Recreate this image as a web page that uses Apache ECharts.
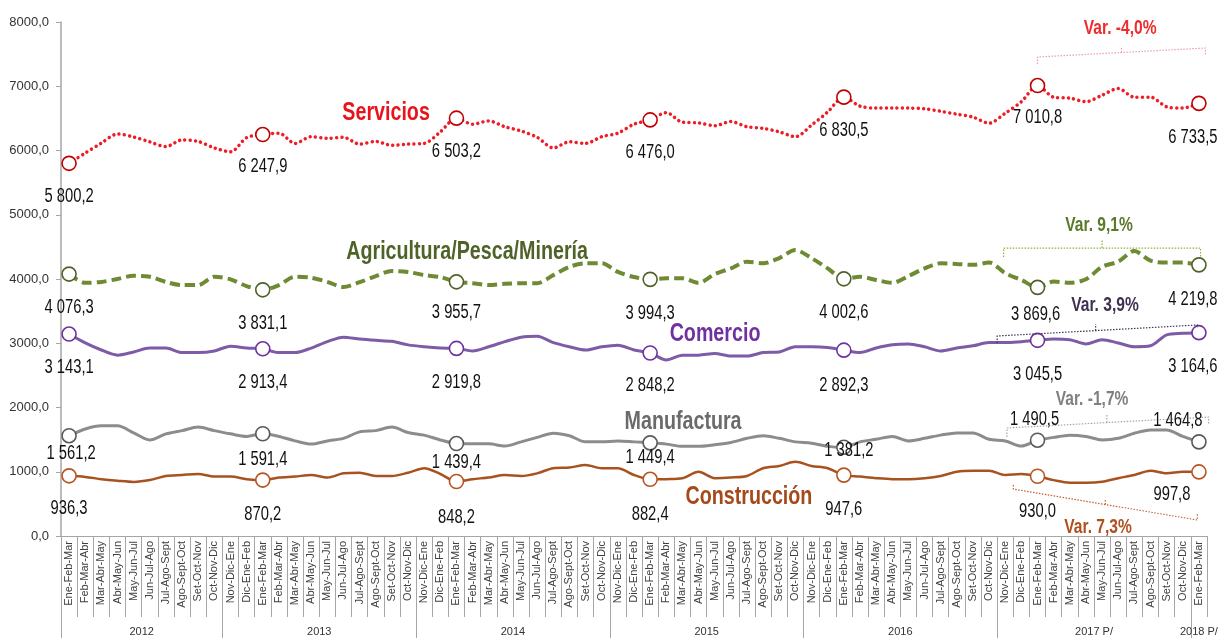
<!DOCTYPE html>
<html>
<head>
<meta charset="utf-8">
<script src="https://cdn.jsdelivr.net/npm/echarts@6/dist/echarts.min.js"></script>
<style>
  body { margin: 0; background: #fff; }
  #main { width: 1222px; height: 638px; }
</style>
</head>
<body>
<div id="main"></div>
<script>
// trimestres moviles
var trimestres = ['Nov-Dic-Ene', 'Dic-Ene-Feb', 'Ene-Feb-Mar', 'Feb-Mar-Abr', 'Mar-Abr-May', 'Abr-May-Jun',
    'May-Jun-Jul', 'Jun-Jul-Ago', 'Jul-Ago-Sept', 'Ago-Sept-Oct', 'Set-Oct-Nov', 'Oct-Nov-Dic'];
var anios = ['2012', '2013', '2014', '2015', '2016', '2017 P/', '2018 P/'];
var trimestresPorAnio = [10, 12, 12, 12, 12, 12, 1];
var periodos = trimestres.slice(2)
    .concat(trimestres, trimestres, trimestres, trimestres, trimestres)
    .concat(['Ene-Feb-Mar']);

var servicios = [5800.2, 5960, 6115, 6257, 6210, 6135, 6060, 6165, 6140, 6040, 5980, 6200,
    6247.9, 6270, 6110, 6215, 6190, 6205, 6100, 6140, 6080, 6100, 6110, 6290,
    6503.2, 6410, 6460, 6370, 6305, 6205, 6040, 6135, 6110, 6215, 6270, 6410,
    6476.0, 6590, 6440, 6430, 6385, 6450, 6370, 6345, 6290, 6215, 6395, 6600,
    6830.5, 6690, 6660, 6660, 6660, 6650, 6610, 6565, 6520, 6425, 6580, 6760,
    7010.8, 6830, 6815, 6760, 6860, 6965, 6830, 6830, 6680, 6660, 6733.5];
var agricultura = [4076.3, 3940, 3955, 4000, 4050, 4035, 3955, 3905, 3905, 4035, 3995, 3890,
    3831.1, 3905, 4035, 4020, 3955, 3875, 3950, 4045, 4125, 4110, 4060, 4030,
    3955.7, 3935, 3905, 3925, 3935, 3935, 4060, 4190, 4245, 4245, 4110, 4030,
    3994.3, 4010, 4010, 3940, 4075, 4165, 4270, 4245, 4325, 4450, 4325, 4165,
    4002.6, 4035, 3985, 3940, 4045, 4165, 4245, 4235, 4220, 4255, 4090, 3985,
    3869.6, 3960, 3940, 3995, 4190, 4270, 4435, 4285, 4255, 4255, 4219.8];
var comercio = [3143.1, 3005, 2895, 2815, 2865, 2925, 2925, 2855, 2855, 2880, 2955, 2925,
    2913.4, 2855, 2855, 2925, 3025, 3095, 3065, 3045, 3030, 2975, 2945, 2925,
    2919.8, 2880, 2945, 3025, 3095, 3110, 3010, 2945, 2895, 2945, 2970, 2895,
    2848.2, 2740, 2815, 2815, 2840, 2800, 2800, 2855, 2865, 2945, 2945, 2935,
    2892.3, 2855, 2925, 2975, 2990, 2945, 2880, 2925, 2960, 3010, 3010, 3025,
    3045.5, 3065, 3055, 2990, 3055, 3005, 2945, 2960, 3130, 3155, 3164.6];
var manufactura = [1561.2, 1665, 1715, 1715, 1605, 1495, 1590, 1640, 1695, 1640, 1590, 1550,
    1591.4, 1550, 1480, 1430, 1480, 1520, 1620, 1640, 1695, 1610, 1570, 1495,
    1439.4, 1435, 1435, 1400, 1465, 1535, 1600, 1560, 1465, 1465, 1480, 1465,
    1449.4, 1430, 1395, 1395, 1420, 1455, 1520, 1560, 1520, 1465, 1445, 1395,
    1381.2, 1465, 1505, 1550, 1480, 1520, 1570, 1605, 1605, 1505, 1480, 1400,
    1490.5, 1535, 1570, 1550, 1495, 1520, 1600, 1650, 1650, 1550, 1464.8];
var construccion = [936.3, 920, 885, 860, 842, 870, 935, 950, 965, 925, 925, 885,
    870.2, 910, 925, 950, 910, 975, 985, 935, 935, 985, 1055, 965,
    848.2, 885, 910, 950, 935, 975, 1055, 1065, 1105, 1055, 1055, 950,
    882.4, 885, 900, 1000, 900, 910, 935, 1055, 1090, 1155, 1090, 1055,
    947.6, 925, 900, 885, 885, 900, 935, 1000, 1015, 1015, 950, 965,
    930.0, 870, 830, 830, 845, 900, 950, 1015, 975, 1000, 997.8];

// puntos marcados (Ene-Feb-Mar de cada anio)
var marcas = [0, 12, 24, 36, 48, 60, 70];

// limites y centros de cada anio en el eje
var limitesAnio = [0];
var centrosAnio = [];
for (var a = 0; a < trimestresPorAnio.length; a++) {
    var ini = limitesAnio[limitesAnio.length - 1];
    centrosAnio.push(ini + trimestresPorAnio[a] / 2);
    limitesAnio.push(ini + trimestresPorAnio[a]);
}
limitesAnio.pop();

var FUENTE = "'Liberation Sans', Arial, sans-serif";
var ANGOSTA = 0.82; // la fuente original es condensada

function fmt(v) {
    var s = v.toFixed(1).split('.');
    return s[0].replace(/\B(?=(\d{3})+(?!\d))/g, ' ') + ',' + s[1];
}

function serie(nombre, datos, borde, lineStyle) {
    return {
        name: nombre,
        type: 'line',
        smooth: 0.3,
        symbol: 'none',
        showAllSymbol: true,
        lineStyle: lineStyle,
        itemStyle: { color: '#fff', borderColor: borde, borderWidth: 1.6 },
        data: datos.map(function (v, i) {
            if (marcas.indexOf(i) < 0) return { value: v };
            return { value: v, symbol: 'circle', symbolSize: 14 };
        }),
        z: 3
    };
}

var chart = echarts.init(document.getElementById('main'));

var option = {
    backgroundColor: '#fff',
    animation: false,
    grid: { left: 61, right: 15, top: 22, bottom: 102 },
    xAxis: [{
        type: 'category',
        data: periodos,
        boundaryGap: true,
        axisLine: { lineStyle: { color: '#a6a6a6', width: 1 } },
        axisTick: { show: true, interval: 0, length: 81, lineStyle: { color: '#a6a6a6' } },
        axisLabel: {
            interval: 0, rotate: 90, margin: 5,
            fontFamily: FUENTE, fontSize: 11, color: '#404040'
        },
        splitLine: { show: false }
    }, {
        type: 'value',
        min: 0,
        max: periodos.length,
        position: 'bottom',
        axisLine: { show: false },
        axisTick: { show: true, customValues: limitesAnio, length: 102, lineStyle: { color: '#a6a6a6' } },
        axisLabel: {
            customValues: centrosAnio,
            margin: 90,
            fontFamily: FUENTE, fontSize: 11, color: '#333',
            formatter: function (v) {
                var k = centrosAnio.indexOf(v);
                return k < 0 ? '' : anios[k];
            }
        },
        splitLine: { show: false }
    }],
    yAxis: {
        type: 'value',
        min: 0,
        max: 8000,
        interval: 1000,
        axisLine: { show: true, lineStyle: { color: '#a6a6a6', width: 1.5 } },
        axisTick: { show: true, length: 5, lineStyle: { color: '#a6a6a6' } },
        splitLine: { show: false },
        axisLabel: {
            margin: 12,
            fontFamily: FUENTE, fontSize: 13, color: '#333',
            formatter: function (v) { return v.toFixed(1).replace('.', ','); }
        }
    },
    series: [
        serie('Servicios', servicios, '#c00000',
            { color: '#ee1c25', width: 3.5, type: [0.01, 5.3], cap: 'round' }),
        serie('Agricultura/Pesca/Minería', agricultura, '#4f6228',
            { color: '#6e8b34', width: 4, type: [10, 5] }),
        serie('Comercio', comercio, '#7030a0',
            { color: '#7d5ba6', width: 3 }),
        serie('Manufactura', manufactura, '#595959',
            { color: '#8c8c8c', width: 3 }),
        serie('Construcción', construccion, '#b85420',
            { color: '#a8521f', width: 2.5 })
    ]
};

chart.setOption(option);

function pt(i, v) {
    return chart.convertToPixel({ xAxisIndex: 1, yAxisIndex: 0 }, [i + 0.5, v]);
}

// desplazamiento de las etiquetas de valor respecto del marcador (px)
var desplazamientos = [
    { d: servicios, o: [[0, 33], [0, 32], [0, 33], [0, 33], [0, 33], [0, 32], [-6, 34]] },
    { d: agricultura, o: [[0, 33], [0, 34], [0, 31], [0, 34], [0, 34], [-2, 27], [-6, 35]] },
    { d: comercio, o: [[0, 33], [0, 34], [0, 34], [0, 32], [0, 35], [0, 34], [-6, 34]] },
    { d: manufactura, o: [[2, 18], [0, 26], [0, 19], [0, 15], [5, 3], [-3, -21], [-21, -21]] },
    { d: construccion, o: [[0, 33], [0, 34], [0, 36], [0, 35], [0, 34], [0, 35], [-27, 23]] }
];

// rotulos de series y variaciones (coordenadas en datos: indice, valor)
var textos = [
    { t: 'Servicios', i: 19.64, v: 6584, c: '#e8141c', s: 24 },
    { t: 'Agricultura/Pesca/Minería', i: 24.66, v: 4420, c: '#4f6228', s: 24 },
    { t: 'Comercio', i: 40.02, v: 3144, c: '#7030a0', s: 24 },
    { t: 'Manufactura', i: 38.04, v: 1774, c: '#6b6b6b', s: 24 },
    { t: 'Construcción', i: 42.12, v: 607, c: '#a5491b', s: 24 },
    { t: 'Var. -4,0%', i: 65.12, v: 7891, c: '#ef2b2d', s: 19 },
    { t: 'Var. 9,1%', i: 63.81, v: 4825, c: '#5a7a2a', s: 19 },
    { t: 'Var. 3,9%', i: 64.18, v: 3580, c: '#3f3151', s: 19 },
    { t: 'Var. -1,7%', i: 63.38, v: 2117, c: '#808080', s: 19 },
    { t: 'Var. 7,3%', i: 63.75, v: 140, c: '#b0501e', s: 19 }
];
var corchetes = [
    { c: '#e8a0a8', p: [[60.0, 7346], [60.0, 7455], [70.4, 7595], [70.4, 7486]], t: [[65.2, 7525], [65.2, 7611]] },
    { c: '#8fb33c', p: [[57.9, 4342], [57.9, 4482], [70.1, 4482], [70.1, 4342]], t: [[64.0, 4482], [64.0, 4607]] },
    { c: '#3f3151', p: [[57.5, 3004], [57.5, 3113], [69.9, 3284], [69.9, 3240]], t: [[63.6, 3198], [63.6, 3300]] },
    { c: '#a6a6a6', p: [[58.1, 1541], [58.1, 1681], [70.6, 1852], [70.6, 1728]], t: [[64.3, 1767], [64.3, 1883]] },
    { c: '#c0602a', p: [[58.5, 794], [58.5, 731], [69.9, 249], [69.9, 358]], t: [[64.2, 490], [64.2, 560]] }
];

var graficos = [];
corchetes.forEach(function (b) {
    [b.p, b.t].forEach(function (linea) {
        graficos.push({
            type: 'polyline', z: 5,
            shape: { points: linea.map(function (q) { return pt(q[0], q[1]); }) },
            style: { stroke: b.c, lineWidth: 1.2, lineDash: [1.5, 1.5], fill: null }
        });
    });
});
desplazamientos.forEach(function (e) {
    marcas.forEach(function (idx, k) {
        var p = pt(idx, e.d[idx]);
        graficos.push({
            type: 'text', z: 6,
            x: p[0] + e.o[k][0], y: p[1] + e.o[k][1],
            scaleX: ANGOSTA, scaleY: 1.12,
            style: {
                text: fmt(e.d[idx]), fill: '#111', align: 'center', verticalAlign: 'middle',
                font: '18px ' + FUENTE
            }
        });
    });
});
textos.forEach(function (o) {
    var p = pt(o.i, o.v);
    graficos.push({
        type: 'text', z: 6, x: p[0], y: p[1],
        scaleX: ANGOSTA, scaleY: 1.05,
        style: {
            text: o.t, fill: o.c, align: 'center', verticalAlign: 'middle',
            font: 'bold ' + o.s + 'px ' + FUENTE
        }
    });
});

chart.setOption({ graphic: graficos });
</script>
</body>
</html>
